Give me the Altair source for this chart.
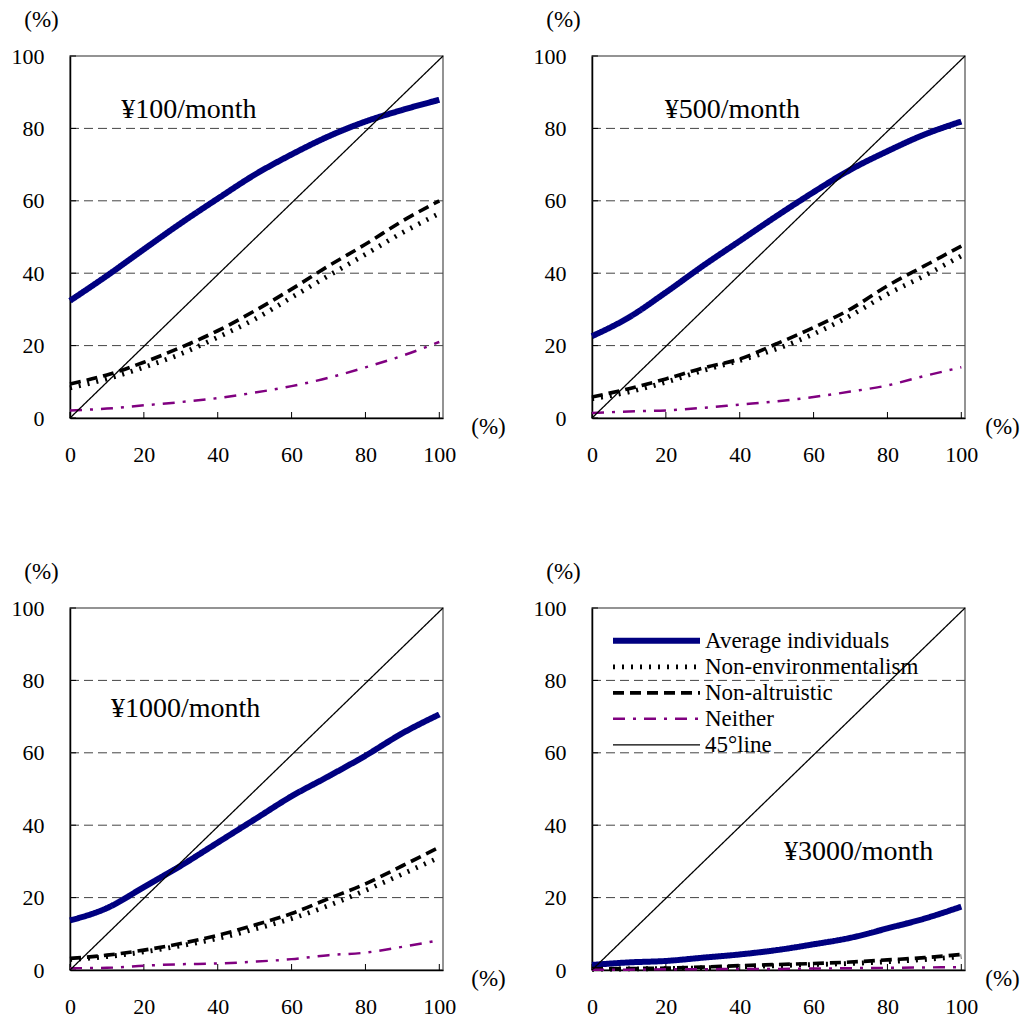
import altair as alt
import pandas as pd

FONT = "Liberation Serif"

x_pts = [0, 10, 20, 30, 40, 50, 60, 70, 80, 90, 100]
series_names = ["Average individuals", "Non-environmentalism", "Non-altruistic", "Neither", "45°line"]
series_colors = ["#000080", "#000000", "#000000", "#800080", "#000000"]
series_dash = [[1, 0], [2, 7], [11, 6], [12, 8, 3, 8], [1, 0]]
series_width = [6, 1.3, 1.3, 1.8, 1.7]

x45 = [0, 101]
y45 = [0, 100]

tick_vals = [0, 20, 40, 60, 80, 100]
grid_vals = [20, 40, 60, 80]

# ¥100/month
avg_100 = [32.4, 39.3, 46.6, 53.8, 60.6, 67.2, 72.8, 77.8, 81.9, 85.1, 87.9]
noenv_100 = [8.3, 10.8, 14.0, 17.7, 22.3, 27.3, 33.3, 39.3, 45.2, 51.2, 56.5]
noalt_100 = [9.4, 11.9, 15.4, 19.5, 24.1, 29.6, 35.6, 42.0, 48.0, 54.4, 60.0]
neither_100 = [2.1, 2.6, 3.5, 4.4, 5.5, 7.0, 8.8, 11.1, 14.0, 17.2, 21.0]

# ¥500/month
avg_500 = [22.6, 27.8, 34.7, 42.0, 48.9, 55.8, 62.4, 68.6, 73.7, 78.3, 81.9]
noenv_500 = [5.3, 7.2, 9.9, 13.1, 15.9, 19.1, 23.2, 28.3, 34.2, 39.3, 44.8]
noalt_500 = [5.8, 8.1, 10.8, 13.8, 16.3, 20.5, 25.0, 30.1, 36.5, 42.0, 47.5]
neither_500 = [1.4, 1.8, 2.1, 2.8, 3.7, 4.6, 5.8, 7.3, 9.0, 11.6, 14.0]

# ¥1000/month
avg_1000 = [13.7, 17.1, 22.9, 28.8, 35.2, 41.6, 48.0, 53.5, 59.2, 65.4, 70.6]
noenv_1000 = [2.9, 3.7, 5.0, 6.7, 8.7, 11.3, 14.2, 17.8, 22.0, 26.5, 31.1]
noalt_1000 = [3.2, 4.1, 5.5, 7.3, 9.6, 12.4, 15.6, 19.7, 23.8, 28.8, 33.9]
neither_1000 = [0.5, 0.6, 1.2, 1.6, 1.8, 2.3, 3.0, 4.1, 4.8, 6.4, 8.2]

# ¥3000/month
avg_3000 = [1.4, 2.1, 2.5, 3.4, 4.3, 5.5, 7.1, 8.9, 11.5, 14.2, 17.5]
noenv_3000 = [0.2, 0.3, 0.4, 0.6, 0.9, 1.2, 1.5, 1.8, 2.3, 2.9, 3.7]
noalt_3000 = [0.3, 0.4, 0.5, 0.8, 1.2, 1.5, 1.8, 2.2, 2.8, 3.4, 4.3]
neither_3000 = [0.1, 0.1, 0.2, 0.2, 0.3, 0.3, 0.4, 0.5, 0.6, 0.7, 0.8]

labels = ["¥100/month", "¥500/month", "¥1000/month", "¥3000/month"]
label_x = [32.2, 38.0, 31.3, 72.2]
label_y = [85.1, 85.0, 72.0, 32.6]

W, H = 373, 362


def panel(avg, noenv, noalt, neither, idx, show_legend, xtitle_x):
    rows = []
    for name, vals in zip(series_names[:4], [avg, noenv, noalt, neither]):
        for xv, yv in zip(x_pts, vals):
            rows.append({"x": xv, "y": yv, "series": name})
    for xv, yv in zip(x45, y45):
        rows.append({"x": xv, "y": yv, "series": series_names[4]})
    df = pd.DataFrame(rows)

    xs = alt.Scale(domain=[0, 101], nice=False, zero=False)
    ys = alt.Scale(domain=[0, 100], nice=False, zero=False)

    if show_legend:
        leg = alt.Legend(
            title=None, orient="none", legendX=18, legendY=20,
            symbolType="stroke", symbolSize=87 * 87, clipHeight=25.6,
            rowPadding=0, labelOffset=2, padding=0,
            labelFont=FONT, labelFontSize=23, labelColor="black",
            labelLimit=400,
        )
    else:
        leg = None

    xaxis = alt.Axis(
        values=tick_vals, ticks=False, grid=False, labelPadding=26,
        labelFont=FONT, labelFontSize=22, labelColor="black", labelFlush=False,
        domainColor="black", domainWidth=1.5,
        title="(%)", titleAngle=0, titleX=xtitle_x, titleY=8,
        titleAlign="center", titleBaseline="middle",
        titleFont=FONT, titleFontSize=23, titleFontWeight="normal", titleColor="black",
    )
    yaxis = alt.Axis(
        values=tick_vals, ticks=False, grid=False, labelPadding=26,
        labelFont=FONT, labelFontSize=22, labelColor="black",
        domainColor="black", domainWidth=1.5,
        title="(%)", titleAngle=0, titleX=-29, titleY=-37,
        titleAlign="center", titleBaseline="middle",
        titleFont=FONT, titleFontSize=23, titleFontWeight="normal", titleColor="black",
    )

    lines = alt.Chart(df).mark_line(interpolate="monotone").encode(
        x=alt.X("x:Q", scale=xs, axis=xaxis),
        y=alt.Y("y:Q", scale=ys, axis=yaxis),
        color=alt.Color("series:N", sort=series_names,
                        scale=alt.Scale(domain=series_names, range=series_colors), legend=leg),
        strokeDash=alt.StrokeDash("series:N", sort=series_names,
                                  scale=alt.Scale(domain=series_names, range=series_dash), legend=leg),
        strokeWidth=alt.StrokeWidth("series:N", sort=series_names,
                                    scale=alt.Scale(domain=series_names, range=series_width), legend=leg),
        order=alt.Order("x:Q"),
    )

    grid = alt.Chart(pd.DataFrame({"y": grid_vals})).mark_rule(
        color="#444444", strokeDash=[9, 5], strokeWidth=1
    ).encode(y=alt.Y("y:Q", scale=ys, axis=yaxis), x=alt.value(0), x2=alt.value(W))

    tdf = pd.DataFrame({"x": tick_vals, "y": tick_vals})
    xticks = alt.Chart(tdf).mark_rule(color="black", strokeWidth=1).encode(
        x=alt.X("x:Q", scale=xs, axis=xaxis), y=alt.value(H), y2=alt.value(H - 6)
    )
    yticks = alt.Chart(tdf).mark_rule(color="black", strokeWidth=1).encode(
        y=alt.Y("y:Q", scale=ys, axis=yaxis), x=alt.value(0), x2=alt.value(6)
    )

    text = alt.Chart(pd.DataFrame({"x": [label_x[idx]], "y": [label_y[idx]], "t": [labels[idx]]})).mark_text(
        font=FONT, fontSize=28, align="center", baseline="middle", color="black"
    ).encode(x=alt.X("x:Q", scale=xs, axis=xaxis), y=alt.Y("y:Q", scale=ys, axis=yaxis), text="t:N")

    return alt.layer(grid, xticks, yticks, lines, text).properties(width=W, height=H)


p1 = panel(avg_100, noenv_100, noalt_100, neither_100, 0, False, 418)
p2 = panel(avg_500, noenv_500, noalt_500, neither_500, 1, False, 410)
p3 = panel(avg_1000, noenv_1000, noalt_1000, neither_1000, 2, False, 418)
p4 = panel(avg_3000, noenv_3000, noalt_3000, neither_3000, 3, True, 410)

chart = alt.concat(
    p1, p2, p3, p4, columns=2, spacing={"row": 190, "column": 149}, bounds="flush"
).resolve_scale(
    color="independent", strokeDash="independent", strokeWidth="independent"
).properties(
    padding={"left": 2, "top": -1, "right": 0, "bottom": 0}, background="white"
).configure(
    font=FONT
).configure_axis(
    labelFont=FONT, titleFont=FONT
).configure_legend(
    labelFont=FONT
).configure_view(stroke="#707070", strokeWidth=1.5)

chart.save("out.html", embed_options={"renderer": "svg", "actions": False})
